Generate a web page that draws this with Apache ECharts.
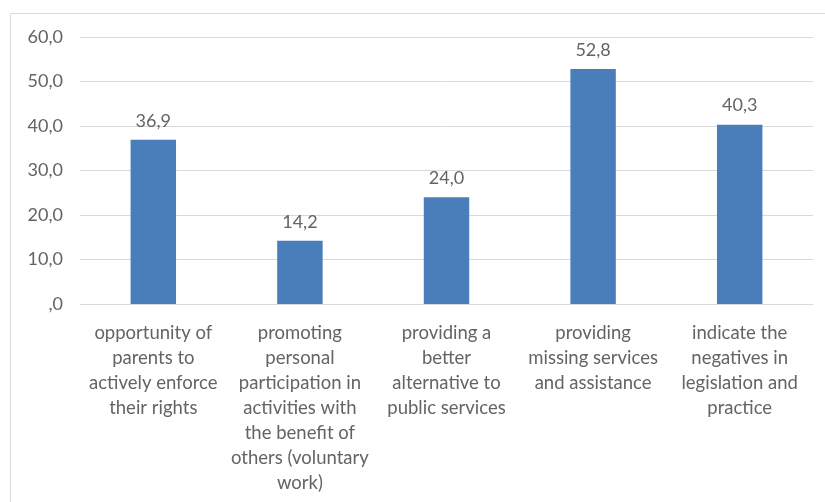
<!DOCTYPE html>
<html>
<head>
<meta charset="utf-8">
<script src="https://cdn.jsdelivr.net/npm/echarts@6/dist/echarts.min.js"></script>
<style>
  html, body { margin: 0; padding: 0; background: #ffffff; }
  #chart { width: 825px; height: 502px; }
</style>
</head>
<body>
<div id="chart"></div>
<script>
// Reasons for parental engagement, share of respondents (%)
const categories = [
  'opportunity of\nparents to\nactively enforce\ntheir rights',
  'promoting\npersonal\nparticipation in\nactivities with\nthe benefit of\nothers (voluntary\nwork)',
  'providing a\nbetter\nalternative to\npublic services',
  'providing\nmissing services\nand assistance',
  'indicate the\nnegatives in\nlegislation and\npractice'
];
const values = [36.9, 14.2, 24.0, 52.8, 40.3];
const yTicks = { min: 0, max: 60, interval: 10 };

// Decimal comma, with the zero tick written as ",0"
function fmt(v) {
  if (v === 0) return ',0';
  return v.toFixed(1).replace('.', ',');
}

const chart = echarts.init(document.getElementById('chart'), null, { renderer: 'canvas' });
const textColor = '#646464';
const fontFamily = 'Lato, "Open Sans", sans-serif';
const fontSize = 18;

chart.setOption({
  animation: false,
  backgroundColor: '#ffffff',
  textStyle: { fontFamily: fontFamily },
  graphic: [{
    type: 'rect',
    shape: { x: 10.5, y: 13.5, width: 830, height: 500 },
    style: { fill: 'none', stroke: '#d9d9d9', lineWidth: 1 },
    silent: true
  }],
  grid: { left: 80, right: 12, top: 37, bottom: 198 },
  xAxis: {
    type: 'category',
    data: categories,
    axisTick: { show: false },
    axisLine: { show: true, lineStyle: { color: '#d9d9d9', width: 1 } },
    axisLabel: {
      interval: 0,
      color: textColor,
      fontSize: 18.5,
      lineHeight: 25,
      margin: 17,
      fontFamily: fontFamily
    }
  },
  yAxis: {
    type: 'value',
    min: yTicks.min,
    max: yTicks.max,
    interval: yTicks.interval,
    axisLine: { show: false },
    axisTick: { show: false },
    splitLine: { lineStyle: { color: '#d9d9d9', width: 1 } },
    axisLabel: {
      color: textColor,
      fontSize: fontSize,
      margin: 17,
      fontFamily: fontFamily,
      formatter: fmt
    }
  },
  series: [{
    type: 'bar',
    data: values,
    barWidth: '31%',
    itemStyle: { color: '#4a7ebb' },
    label: {
      show: true,
      position: 'top',
      distance: 10,
      color: textColor,
      fontSize: fontSize,
      fontFamily: fontFamily,
      formatter: function (p) { return fmt(p.value); }
    }
  }]
});
</script>
</body>
</html>
